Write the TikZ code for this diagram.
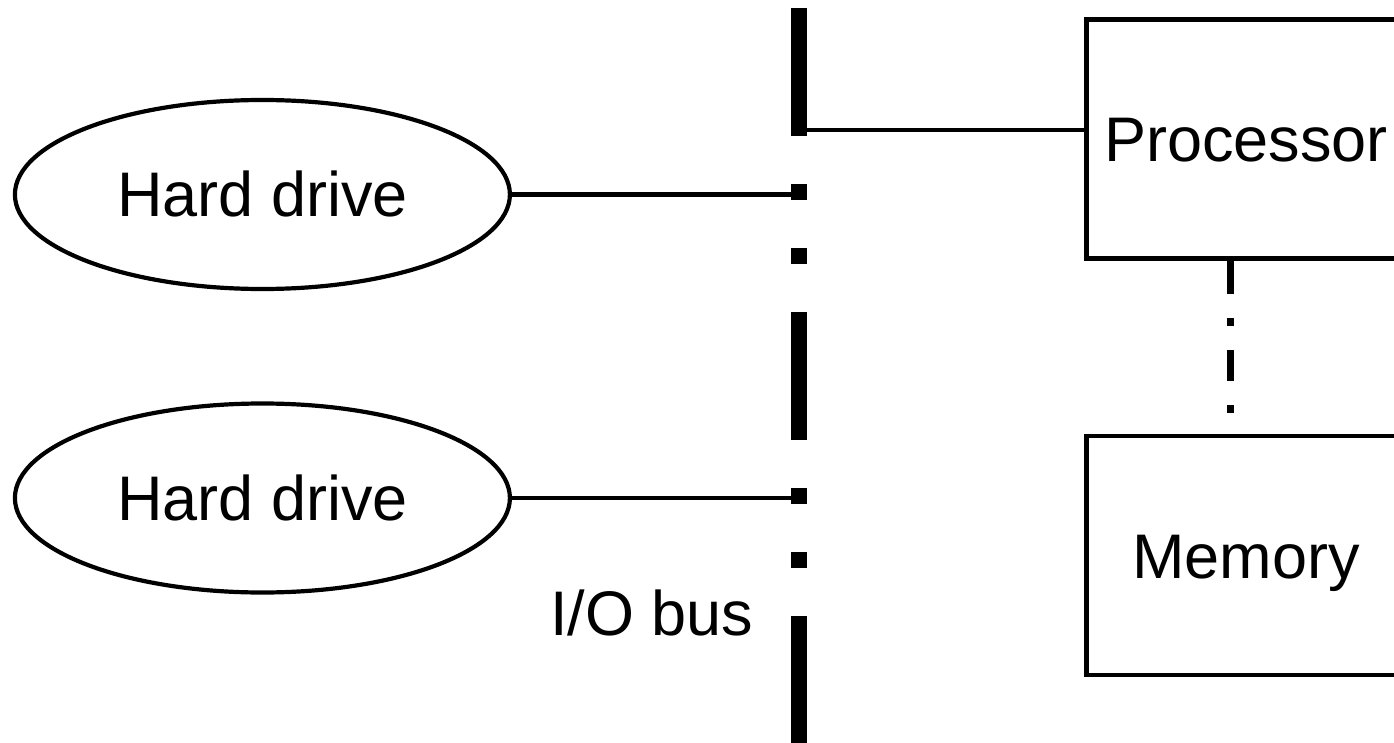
\documentclass[tikz,border=0pt]{standalone}
\usepackage{fontspec}
\setmainfont{Liberation Sans}
\usetikzlibrary{shapes.geometric,calc}
\begin{document}
\begin{tikzpicture}[x=1pt,y=-1pt,
  lbl/.style={font=\fontsize{63}{75}\selectfont, text height=45pt, text depth=0pt},
  drive/.style={lbl, ellipse, draw, line width=4.2pt, inner sep=0pt,
    minimum width=495pt, minimum height=189pt},
  unit/.style={lbl, rectangle, draw, line width=4.5pt, inner sep=0pt,
    minimum width=318.3pt, minimum height=239pt},
  wire/.style={line width=4.3pt},
  busline/.style={line width=16pt,
    dash pattern=on 128pt off 48pt on 16pt off 48pt on 16pt off 48pt},
  memlink/.style={line width=7.5pt,
    dash pattern=on 33.5pt off 24pt on 8pt off 24pt on 31pt off 24pt on 8pt off 30pt}]
\useasboundingbox (0,0) rectangle (1394,743);

\node[drive] (hd1) at (262.4,194.5) {Hard drive};
\node[drive] (hd2) at (262.4,498) {Hard drive};
\node[unit] (proc) at (1245.85,139) {Processor};
\node[unit] (mem) at (1245.85,555.5) {Memory};
\node[lbl, anchor=base west, inner sep=0pt, text height=, text depth=] (iolbl) at (550,635) {I/O bus};

\coordinate (busTop) at (798.5,8);
\coordinate (busBot) at (798.5,743);
\coordinate (procTap) at (798.5,130);
\coordinate (dl) at (1230.5,350);

\draw[wire] (hd1.east) -- (hd1.east -| busTop);
\draw[wire] (hd2.east) -- (hd2.east -| busTop);
\draw[wire] (procTap) -- (procTap -| proc.west);
\draw[memlink] (proc.south -| dl) -- (mem.north -| dl);
\draw[busline] (busTop) -- (busBot);
\end{tikzpicture}
\end{document}
